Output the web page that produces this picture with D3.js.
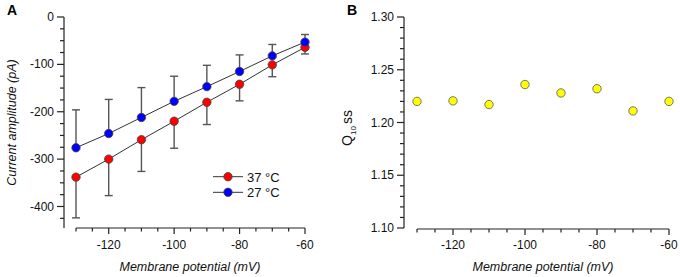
<!DOCTYPE html>
<html><head><meta charset="utf-8">
<script src="https://cdn.jsdelivr.net/npm/d3@7"></script>
<style>
body{margin:0;background:#fff;}
text{font-family:Arial,"Liberation Sans",sans-serif;}
</style></head>
<body><svg id="c" width="680" height="277"></svg>
<script>
const voltages = [-130,-120,-110,-100,-90,-80,-70,-60];
const i37 = [-338,-300,-259,-220,-180,-142,-101,-64];
const e37 = [86,77,67,57,47,35,25,14];
const i27 = [-276,-246,-212,-178,-147,-115,-82,-53];
const e27 = [80,72,63,53,45,35,24,16];
const q10 = [1.220,1.2205,1.217,1.236,1.228,1.232,1.211,1.220];
const seriesLabels = ["37 °C","27 °C"];
const xTicksMajor = [-120,-100,-80,-60];
const yTicksA = [0,-100,-200,-300,-400];
const yTicksB = [1.10,1.15,1.20,1.25,1.30];

const svg = d3.select("#c");
const axisCol = "#222";

// ---------- Panel A ----------
const xA = d3.scaleLinear().domain([-130,-60]).range([76,305]);
const yA = d3.scaleLinear().domain([0,-400]).range([17,206.5]);
const gA = svg.append("g");

// y axis
gA.append("line").attr("x1",64).attr("x2",64).attr("y1",yA(0)).attr("y2",228)
  .attr("stroke",axisCol).attr("stroke-width",1.2);
d3.range(0,-450,-25).forEach(v=>{
  const major = v%100===0;
  gA.append("line").attr("x1",64-(major?7:4)).attr("x2",64).attr("y1",yA(v)).attr("y2",yA(v))
    .attr("stroke",axisCol).attr("stroke-width",1.2);
});
yTicksA.forEach(v=>{
  gA.append("text").attr("x",54).attr("y",yA(v)+4).attr("text-anchor","end")
    .attr("font-size",12).attr("fill","#111").text(v);
});
// x axis
gA.append("line").attr("x1",xA(-130)).attr("x2",xA(-60)).attr("y1",228).attr("y2",228)
  .attr("stroke",axisCol).attr("stroke-width",1.2);
d3.range(-130,-59,5).forEach(v=>{
  const major = xTicksMajor.includes(v);
  gA.append("line").attr("x1",xA(v)).attr("x2",xA(v)).attr("y1",228).attr("y2",228+(major?6:3.5))
    .attr("stroke",axisCol).attr("stroke-width",1.2);
});
xTicksMajor.forEach(v=>{
  gA.append("text").attr("x",xA(v)).attr("y",249).attr("text-anchor","middle")
    .attr("font-size",12).attr("fill","#111").text(v);
});
gA.append("text").attr("x",190).attr("y",271).attr("text-anchor","middle")
  .attr("font-size",12.5).attr("font-style","italic").attr("fill","#111").text("Membrane potential (mV)");
gA.append("text").attr("transform","translate(16,"+((17+228)/2)+") rotate(-90)")
  .attr("text-anchor","middle").attr("font-size",12.5).attr("font-style","italic").attr("fill","#111")
  .text("Current amplitude (pA)");
svg.append("text").attr("x",7).attr("y",15).attr("font-size",14).attr("font-weight","bold").text("A");

// error bars
function errBars(vals, errs, dir){
  voltages.forEach((v,i)=>{
    const y1 = yA(vals[i]), y2 = yA(vals[i]+dir*errs[i]);
    gA.append("line").attr("x1",xA(v)).attr("x2",xA(v)).attr("y1",y1).attr("y2",y2)
      .attr("stroke","#555").attr("stroke-width",1.4);
    gA.append("line").attr("x1",xA(v)-4).attr("x2",xA(v)+4).attr("y1",y2).attr("y2",y2)
      .attr("stroke","#555").attr("stroke-width",1.4);
  });
}
errBars(i37,e37,-1);
errBars(i27,e27,1);
const lineA = d3.line().x((d,i)=>xA(voltages[i])).y(d=>yA(d));
[[i37,"#ff0000"],[i27,"#0000ff"]].forEach(([vals,col])=>{
  gA.append("path").attr("d",lineA(vals)).attr("fill","none").attr("stroke","#333").attr("stroke-width",1);
});
[[i37,"#ff0000"],[i27,"#0000ff"]].forEach(([vals,col])=>{
  gA.selectAll(null).data(vals).enter().append("circle")
    .attr("cx",(d,i)=>xA(voltages[i])).attr("cy",d=>yA(d)).attr("r",4.2)
    .attr("fill",col).attr("stroke","#444").attr("stroke-width",0.8);
});
// legend
[["#ff0000",176.7],["#0000ff",192.3]].forEach(([col,y],k)=>{
  gA.append("line").attr("x1",213).attr("x2",243).attr("y1",y).attr("y2",y).attr("stroke","#333").attr("stroke-width",1);
  gA.append("circle").attr("cx",228).attr("cy",y).attr("r",4.2).attr("fill",col).attr("stroke","#444").attr("stroke-width",0.8);
  gA.append("text").attr("x",247).attr("y",y+5).attr("font-size",13).attr("fill","#111").text(seriesLabels[k]);
});

// ---------- Panel B ----------
const xB = d3.scaleLinear().domain([-130,-60]).range([417,669]);
const yB = d3.scaleLinear().domain([1.10,1.30]).range([228,17]);
const gB = svg.append("g");
gB.append("line").attr("x1",404).attr("x2",404).attr("y1",yB(1.30)).attr("y2",yB(1.10))
  .attr("stroke",axisCol).attr("stroke-width",1.2);
d3.range(0,21).forEach(k=>{
  const v = 1.10 + k*0.01;
  const major = k%5===0;
  gB.append("line").attr("x1",404-(major?7:4)).attr("x2",404).attr("y1",yB(v)).attr("y2",yB(v))
    .attr("stroke",axisCol).attr("stroke-width",1.2);
});
yTicksB.forEach(v=>{
  gB.append("text").attr("x",394).attr("y",yB(v)+4).attr("text-anchor","end")
    .attr("font-size",12).attr("fill","#111").text(v.toFixed(2));
});
gB.append("line").attr("x1",xB(-130)).attr("x2",xB(-60)).attr("y1",229).attr("y2",229)
  .attr("stroke",axisCol).attr("stroke-width",1.2);
d3.range(-130,-59,5).forEach(v=>{
  const major = xTicksMajor.includes(v);
  gB.append("line").attr("x1",xB(v)).attr("x2",xB(v)).attr("y1",229).attr("y2",229+(major?6:3.5))
    .attr("stroke",axisCol).attr("stroke-width",1.2);
});
xTicksMajor.forEach(v=>{
  gB.append("text").attr("x",xB(v)).attr("y",249).attr("text-anchor","middle")
    .attr("font-size",12).attr("fill","#111").text(v);
});
gB.append("text").attr("x",543).attr("y",271).attr("text-anchor","middle")
  .attr("font-size",12.5).attr("font-style","italic").attr("fill","#111").text("Membrane potential (mV)");
const qt = gB.append("text").attr("transform","translate(352,128) rotate(-90)")
  .attr("text-anchor","middle").attr("font-size",14).attr("fill","#111");
qt.append("tspan").text("Q");
qt.append("tspan").attr("font-size",8).attr("dy",4).text("10");
qt.append("tspan").attr("dy",-4).attr("dx",2).text("ss");
svg.append("text").attr("x",347).attr("y",15).attr("font-size",14).attr("font-weight","bold").text("B");
gB.selectAll(null).data(q10).enter().append("circle")
  .attr("cx",(d,i)=>xB(voltages[i])).attr("cy",d=>yB(d)).attr("r",4.2)
  .attr("fill","#ffff00").attr("stroke","#555").attr("stroke-width",0.8);
</script></body></html>
